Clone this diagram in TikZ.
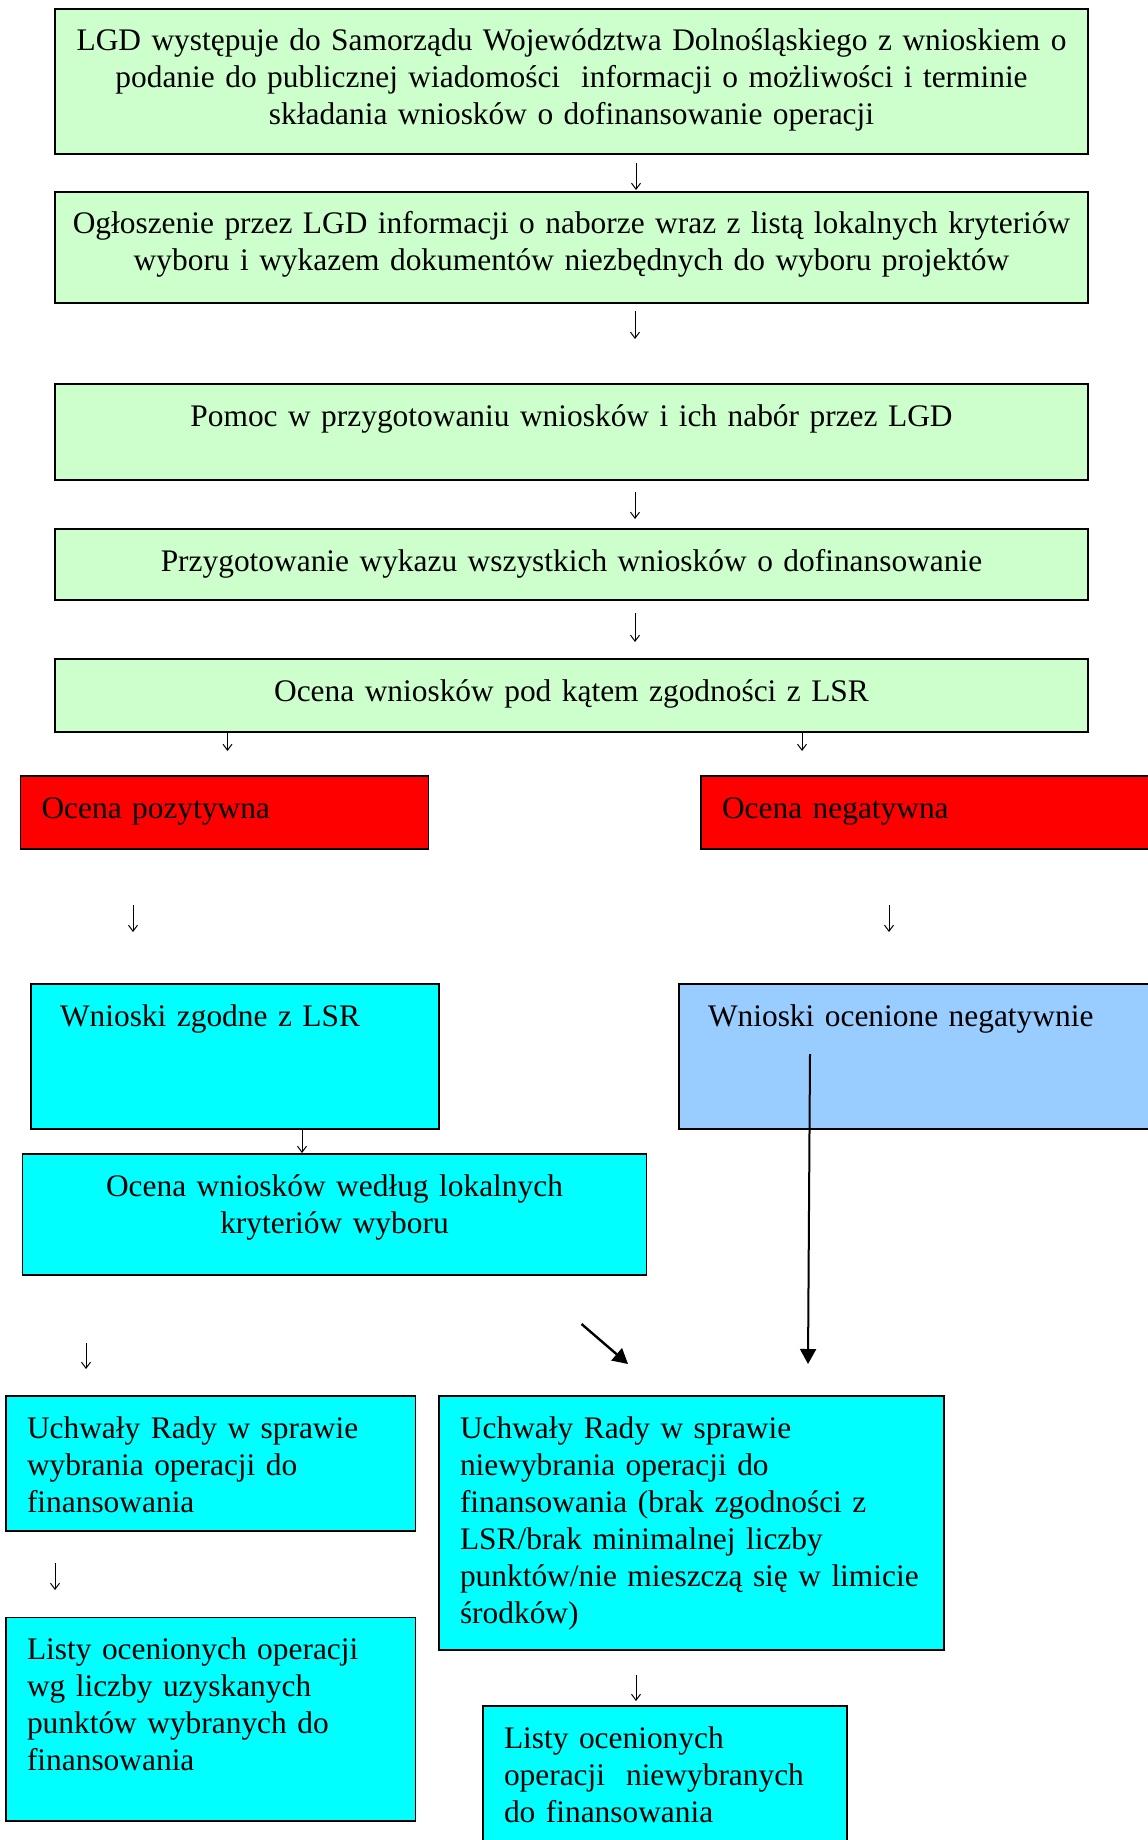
\documentclass[tikz,border=0pt]{standalone}
\usepackage[usenames,dvipsnames]{xcolor}
\usepackage{fontspec}
\setmainfont{Liberation Serif}
\usepackage{tikz}
\usetikzlibrary{arrows.meta,calc}

\definecolor{lgreen}{HTML}{CCFFCC}
\definecolor{lblue}{HTML}{99CCFF}
\definecolor{lcyan}{HTML}{00FFFF}

\hyphenpenalty=10000
\exhyphenpenalty=10000

\tikzset{
  box/.style={draw, line width=0.75pt, anchor=north west, outer sep=0pt,
    inner ysep=9pt, text height=12pt, font=\fontsize{15.7pt}{18.5pt}\selectfont},
  cbox/.style 2 args={box, align=center, inner xsep=3pt, minimum width=#1,
    text width=#1-6pt, text depth=#2-30pt},
  lbox/.style 2 args={box, align=left, inner xsep=10.5pt, minimum width=#1,
    text width=#1-21pt, text depth=#2-30pt},
  greenbox/.style={fill=lgreen},
  redbox/.style={fill=red},
  cyanbox/.style={fill=lcyan},
  bluebox/.style={fill=lblue},
  arr/.style={line width=0.5pt, -{Straight Barb[length=3pt,width=4.5pt]}},
  bigarr/.style={line width=1pt, -{Triangle[length=7.5pt,width=8pt]}}
}

\begin{document}
\begin{tikzpicture}[x=0.5pt,y=-0.5pt]
  \useasboundingbox (0,0) rectangle (1147,1840);

  \draw (55,9) node[cbox={516.5pt}{72.5pt}, greenbox] (wyst) {LGD występuje do Samorządu Województwa Dolnośląskiego z wnioskiem o\\ podanie do publicznej wiadomości\ \ informacji o możliwości i terminie\\ składania wniosków o dofinansowanie operacji};
  \draw (55,192) node[cbox={516.5pt}{55.5pt}, greenbox] (oglo) {Ogłoszenie przez LGD informacji o naborze wraz z listą lokalnych kryteriów\\ wyboru i wykazem dokumentów niezbędnych do wyboru projektów};
  \draw (55,384) node[cbox={516.5pt}{48pt}, greenbox] (pomoc) {Pomoc w przygotowaniu wniosków i ich nabór przez LGD};
  \draw (55,529) node[cbox={516.5pt}{35.5pt}, greenbox] (wykaz) {Przygotowanie wykazu wszystkich wniosków o dofinansowanie};
  \draw (55,659) node[cbox={516.5pt}{36.5pt}, greenbox] (ocena) {Ocena wniosków pod kątem zgodności z LSR};

  \draw (20.5,776) node[lbox={204pt}{36.5pt}, redbox] (pozyt) {Ocena pozytywna};
  \draw (701,776) node[lbox={240pt}{36.5pt}, redbox] (negat) {Ocena negatywna};

  \draw (31,984) node[lbox={204pt}{72.5pt}, cyanbox, inner xsep=14.5pt, text width=175pt] (zgodne) {Wnioski zgodne z LSR};
  \draw (679,984) node[lbox={245pt}{72.5pt}, bluebox, inner xsep=14.5pt, text width=216pt] (negwn) {Wnioski ocenione negatywnie};
  \draw (22.5,1154) node[cbox={312pt}{60.5pt}, cyanbox] (kryt) {Ocena wniosków według lokalnych\\ kryteriów wyboru};

  \draw (6,1396) node[lbox={204.75pt}{67.5pt}, cyanbox] (uwyb) {Uchwały Rady w sprawie\\ wybrania operacji do\\ finansowania};
  \draw (439,1396) node[lbox={252.5pt}{127pt}, cyanbox] (unwyb) {Uchwały Rady w sprawie\\ niewybrania operacji do\\ finansowania (brak zgodności z\\ LSR/brak minimalnej liczby\\ punktów/nie mieszczą się w limicie\\ środków)};
  \draw (6,1617.5) node[lbox={204.75pt}{101.75pt}, cyanbox] (lwyb) {Listy ocenionych operacji\\ wg liczby uzyskanych\\ punktów wybranych do\\ finansowania};
  \draw (483,1706) node[lbox={182pt}{80pt}, cyanbox] (lnwyb) {Listy ocenionych\\ operacji\ \ niewybranych\\ do finansowania};

  \path[arr] ($(wyst.south)+(64.5,9)$) edge ($(oglo.north)+(64.5,-2)$);
  \path[arr] ($(oglo.south)+(63.5,8)$) edge ($(pomoc.north)+(63.5,-45)$);
  \path[arr] ($(pomoc.south)+(63.5,12)$) edge ($(wykaz.north)+(63.5,-10)$);
  \path[arr] ($(wykaz.south)+(63.5,13)$) edge ($(ocena.north)+(63.5,-17)$);
  \path[arr] ($(ocena.south west)+(172.5,0)$) edge ($(pozyt.north west)+(207,-25)$);
  \path[arr] ($(ocena.south east)+(-286,0)$) edge ($(negat.north west)+(101,-25)$);
  \path[arr] ($(pozyt.south west)+(112.5,56)$) edge ($(zgodne.north west)+(102,-52)$);
  \path[arr] ($(negat.south west)+(188,56)$) edge ($(negwn.north west)+(210,-52)$);
  \path[arr] ($(zgodne.south west)+(271,0)$) edge ($(kryt.north west)+(279.5,-1)$);
  \path[arr] ($(kryt.south west)+(63.5,67.5)$) edge ($(uwyb.north west)+(80,-27)$);
  \path[arr] ($(uwyb.south west)+(49,32)$) edge ($(lwyb.north west)+(49,-27.5)$);
  \path[arr] ($(unwyb.south west)+(197,25)$) edge ($(lnwyb.north west)+(153,-5)$);
  \path[bigarr] ($(negwn.north west)+(131,70)$) edge ($(unwyb.north west)+(369,-32)$);
  \path[bigarr, line width=1.2pt] ($(kryt.south east)+(-65,49)$) edge ($(unwyb.north west)+(189,-32)$);

\end{tikzpicture}
\end{document}
